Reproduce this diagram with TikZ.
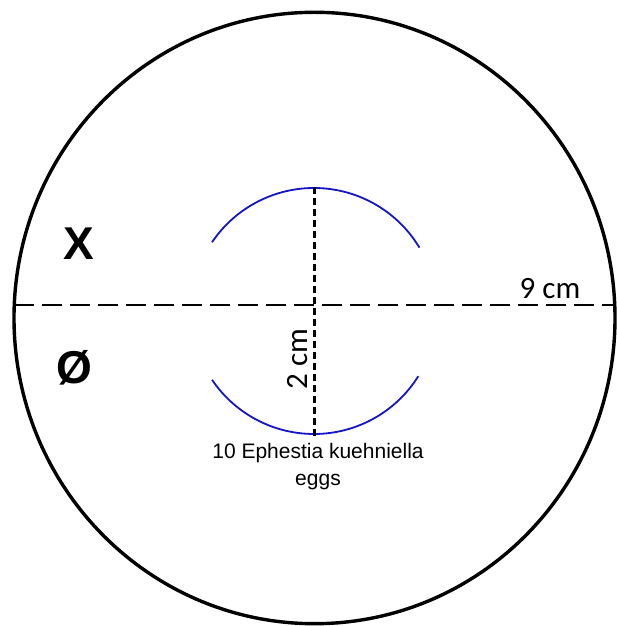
\documentclass[tikz,border=0pt]{standalone}
\usepackage{fontspec}
\setmainfont{Liberation Sans}
\newfontfamily\dimfont{Carlito}
\usetikzlibrary{positioning}
\definecolor{eggblue}{RGB}{20,20,200}

\begin{document}
\begin{tikzpicture}[x=1pt,y=1pt,
  dish/.style={line width=3.4pt},
  halfline/.style={line width=2.2pt,dash pattern=on 20pt off 8pt},
  gapline/.style={line width=3pt,dash pattern=on 7pt off 4pt},
  ring/.style={eggblue,line width=1.8pt},
  sidelab/.style={font=\fontsize{46}{46}\selectfont\bfseries,inner sep=0pt},
  dimlab/.style={font=\dimfont\fontsize{31}{31}\selectfont,inner sep=0pt,anchor=base}]
  \useasboundingbox (0,0) rectangle (616,626);
  % dish
  \coordinate (c) at (314.5,308);
  \draw[dish] (c) ellipse[x radius=300.5,y radius=305.7];
  \coordinate (w) at (14,321);
  \coordinate (e) at (616,321);
  \draw[halfline] (w) -- (e);
  % egg ring
  \coordinate (m) at (314,315);
  \coordinate (top) at (314,439);
  \coordinate (bot) at (314,188);
  \draw[ring] (m) ++(31:123) arc[start angle=31,end angle=146,radius=123];
  \draw[ring] (m) ++(214:123) arc[start angle=214,end angle=328,radius=123];
  \draw[gapline] (top) -- (bot);
  % labels
  \node[sidelab] (x) at (78.5,382.5) {X};
  \node[sidelab] (o) at (74,258) {Ø};
  \node[dimlab] (nine) at (550,327) {9 cm};
  \node[dimlab,rotate=90] (two) at (307,267) {2 cm};
  \node[font=\fontsize{21}{21}\selectfont,inner sep=0pt,anchor=base] (eggs) at (318,167) {10 Ephestia kuehniella};
  \node[font=\fontsize{21}{21}\selectfont,inner sep=0pt,anchor=base] (eggs2) at (318,140) {eggs};
\end{tikzpicture}
\end{document}
